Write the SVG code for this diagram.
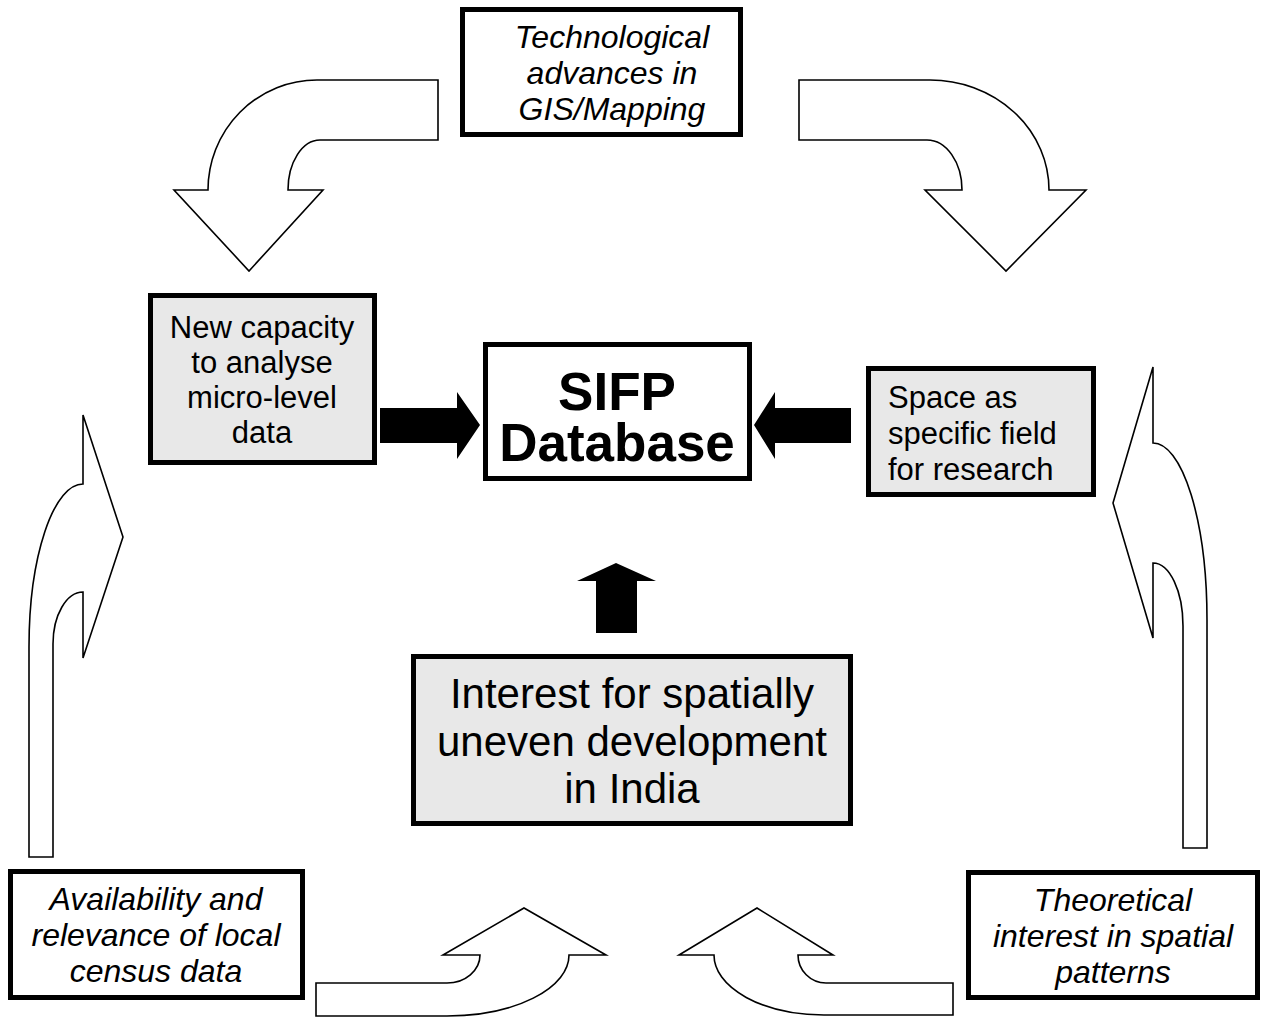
<svg xmlns="http://www.w3.org/2000/svg" width="1266" height="1017" viewBox="0 0 1266 1017">
  <style>
    .box { stroke: #000; stroke-width: 5; }
    .plain { fill: #fff; }
    .shaded { fill: #e8e8e8; }
    .flow { fill: #fff; stroke: #000; stroke-width: 1.6; stroke-linejoin: miter; }
    .solid { fill: #000; stroke: none; }
    text { font-family: "Liberation Sans", Arial, sans-serif; fill: #000; text-anchor: middle; }
    .it { font-style: italic; font-size: 32px; }
    .reg { font-size: 31px; }
    .big { font-size: 42px; }
    .title { font-weight: bold; font-size: 53px; }
  </style>

  <!-- connectors: outlined curved arrows and solid block arrows -->
  <g id="connectors">
    <path class="flow" d="M 438,80 L 317,80 A 109,110 0 0 0 208,190 L 174,190 L 249,271 L 323,190 L 288,190 A 32,50 0 0 1 320,140 L 438,140 Z"/>
    <path class="flow" d="M 799,80 L 930,80 A 119,110 0 0 1 1049,190 L 1086,190 L 1006,271 L 925,190 L 962,190 A 35,50 0 0 0 927,140 L 799,140 Z"/>
    <path class="flow" d="M 29,857 L 29,647 A 54,163 0 0 1 83,484 L 83,415 L 123,537 L 83,658 L 83,592 A 30,52 0 0 0 53,644 L 53,857 Z"/>
    <path class="flow" d="M 1207,848 L 1207,620 A 54,177 0 0 0 1153,443 L 1153,367 L 1113,503 L 1153,638 L 1153,563 A 30,63 0 0 1 1183,626 L 1183,848 Z"/>
    <path class="flow" d="M 316,983 L 447,983 A 33,28 0 0 0 480,955 L 443,955 L 524,908 L 606,955 L 569,955 A 122,61 0 0 1 447,1016 L 316,1016 Z"/>
    <path class="flow" d="M 953,983 L 826,983 A 28,28 0 0 1 798,955 L 833,955 L 757,908 L 679,955 L 714,955 A 110,60 0 0 0 824,1015 L 953,1015 Z"/>
    <path class="solid" d="M 380,408 L 457,408 L 457,392 L 480,425 L 457,459 L 457,443 L 380,443 Z"/>
    <path class="solid" d="M 851,408 L 775,408 L 775,392 L 754,425 L 775,459 L 775,443 L 851,443 Z"/>
    <path class="solid" d="M 596,633 L 596,581 L 577,581 L 616,563 L 656,581 L 637,581 L 637,633 Z"/>
  </g>

  <g id="tech">
    <rect class="box plain" x="462.5" y="9.5" width="278" height="125"/>
    <text class="it" x="612" y="48">Technological</text>
    <text class="it" x="612" y="84">advances in</text>
    <text class="it" x="612" y="120">GIS/Mapping</text>
  </g>

  <g id="capacity">
    <rect class="box shaded" x="150.5" y="295.5" width="224" height="167"/>
    <text class="reg" x="262" y="338">New capacity</text>
    <text class="reg" x="262" y="373">to analyse</text>
    <text class="reg" x="262" y="408">micro-level</text>
    <text class="reg" x="262" y="443">data</text>
  </g>

  <g id="sifp">
    <rect class="box plain" x="485.5" y="344.5" width="264" height="134"/>
    <text class="title" x="617" y="410">SIFP</text>
    <text class="title" x="617" y="461">Database</text>
  </g>

  <g id="space">
    <rect class="box shaded" x="868.5" y="368.5" width="225" height="126"/>
    <text class="reg" x="888" y="408" style="text-anchor:start">Space as</text>
    <text class="reg" x="888" y="444" style="text-anchor:start">specific field</text>
    <text class="reg" x="888" y="480" style="text-anchor:start">for research</text>
  </g>

  <g id="interest">
    <rect class="box shaded" x="413.5" y="656.5" width="437" height="167"/>
    <text class="big" x="632" y="708">Interest for spatially</text>
    <text class="big" x="632" y="756">uneven development</text>
    <text class="big" x="632" y="803">in India</text>
  </g>

  <g id="census">
    <rect class="box plain" x="10.5" y="871.5" width="292" height="126"/>
    <text class="it" x="156" y="910">Availability and</text>
    <text class="it" x="156" y="946">relevance of local</text>
    <text class="it" x="156" y="982">census data</text>
  </g>

  <g id="theory">
    <rect class="box plain" x="968.5" y="872.5" width="289" height="125"/>
    <text class="it" x="1113" y="911">Theoretical</text>
    <text class="it" x="1113" y="947">interest in spatial</text>
    <text class="it" x="1113" y="983">patterns</text>
  </g>
</svg>
